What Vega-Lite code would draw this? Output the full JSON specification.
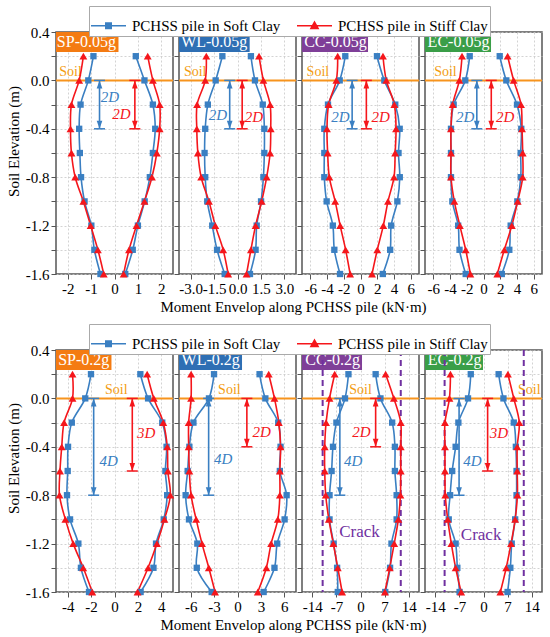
{
  "$schema": "https://vega.github.io/schema/vega-lite/v6.json",
  "padding": {"left": 5, "top": 5, "right": 4, "bottom": 4},
  "data": {"name": "d"},
  "datasets": {
    "d": [
      {"k":"c","p":"SP05","s":"Soft","d":"L","e":0.2,"m":-0.90},{"k":"c","p":"SP05","s":"Soft","d":"L","e":0,"m":-1.12},{"k":"c","p":"SP05","s":"Soft","d":"L","e":-0.2,"m":-1.45},{"k":"c","p":"SP05","s":"Soft","d":"L","e":-0.4,"m":-1.51},{"k":"c","p":"SP05","s":"Soft","d":"L","e":-0.6,"m":-1.48},{"k":"c","p":"SP05","s":"Soft","d":"L","e":-0.8,"m":-1.43},{"k":"c","p":"SP05","s":"Soft","d":"L","e":-1,"m":-1.28},{"k":"c","p":"SP05","s":"Soft","d":"L","e":-1.2,"m":-0.99},{"k":"c","p":"SP05","s":"Soft","d":"L","e":-1.4,"m":-0.86},{"k":"c","p":"SP05","s":"Soft","d":"L","e":-1.6,"m":-0.60},
      {"k":"c","p":"SP05","s":"Stiff","d":"L","e":0.2,"m":-1.33},{"k":"c","p":"SP05","s":"Stiff","d":"L","e":0,"m":-1.51},{"k":"c","p":"SP05","s":"Stiff","d":"L","e":-0.2,"m":-1.84},{"k":"c","p":"SP05","s":"Stiff","d":"L","e":-0.4,"m":-1.88},{"k":"c","p":"SP05","s":"Stiff","d":"L","e":-0.6,"m":-1.84},{"k":"c","p":"SP05","s":"Stiff","d":"L","e":-0.8,"m":-1.68},{"k":"c","p":"SP05","s":"Stiff","d":"L","e":-1,"m":-1.33},{"k":"c","p":"SP05","s":"Stiff","d":"L","e":-1.2,"m":-1.02},{"k":"c","p":"SP05","s":"Stiff","d":"L","e":-1.4,"m":-0.71},{"k":"c","p":"SP05","s":"Stiff","d":"L","e":-1.6,"m":-0.46},
      {"k":"c","p":"SP05","s":"Soft","d":"R","e":0.2,"m":0.91},{"k":"c","p":"SP05","s":"Soft","d":"R","e":0,"m":1.28},{"k":"c","p":"SP05","s":"Soft","d":"R","e":-0.2,"m":1.64},{"k":"c","p":"SP05","s":"Soft","d":"R","e":-0.4,"m":1.74},{"k":"c","p":"SP05","s":"Soft","d":"R","e":-0.6,"m":1.64},{"k":"c","p":"SP05","s":"Soft","d":"R","e":-0.8,"m":1.51},{"k":"c","p":"SP05","s":"Soft","d":"R","e":-1,"m":1.29},{"k":"c","p":"SP05","s":"Soft","d":"R","e":-1.2,"m":1.00},{"k":"c","p":"SP05","s":"Soft","d":"R","e":-1.4,"m":0.78},{"k":"c","p":"SP05","s":"Soft","d":"R","e":-1.6,"m":0.46},
      {"k":"c","p":"SP05","s":"Stiff","d":"R","e":0.2,"m":1.42},{"k":"c","p":"SP05","s":"Stiff","d":"R","e":0,"m":1.64},{"k":"c","p":"SP05","s":"Stiff","d":"R","e":-0.2,"m":1.93},{"k":"c","p":"SP05","s":"Stiff","d":"R","e":-0.4,"m":1.93},{"k":"c","p":"SP05","s":"Stiff","d":"R","e":-0.6,"m":1.81},{"k":"c","p":"SP05","s":"Stiff","d":"R","e":-0.8,"m":1.60},{"k":"c","p":"SP05","s":"Stiff","d":"R","e":-1,"m":1.28},{"k":"c","p":"SP05","s":"Stiff","d":"R","e":-1.2,"m":0.94},{"k":"c","p":"SP05","s":"Stiff","d":"R","e":-1.4,"m":0.62},{"k":"c","p":"SP05","s":"Stiff","d":"R","e":-1.6,"m":0.39},

      {"k":"c","p":"WL05","s":"Soft","d":"L","e":0.2,"m":-0.97},{"k":"c","p":"WL05","s":"Soft","d":"L","e":0,"m":-1.40},{"k":"c","p":"WL05","s":"Soft","d":"L","e":-0.2,"m":-1.90},{"k":"c","p":"WL05","s":"Soft","d":"L","e":-0.4,"m":-2.07},{"k":"c","p":"WL05","s":"Soft","d":"L","e":-0.6,"m":-2.11},{"k":"c","p":"WL05","s":"Soft","d":"L","e":-0.8,"m":-2.07},{"k":"c","p":"WL05","s":"Soft","d":"L","e":-1,"m":-1.94},{"k":"c","p":"WL05","s":"Soft","d":"L","e":-1.2,"m":-1.62},{"k":"c","p":"WL05","s":"Soft","d":"L","e":-1.4,"m":-1.31},{"k":"c","p":"WL05","s":"Soft","d":"L","e":-1.6,"m":-0.82},
      {"k":"c","p":"WL05","s":"Stiff","d":"L","e":0.2,"m":-2.00},{"k":"c","p":"WL05","s":"Stiff","d":"L","e":0,"m":-2.07},{"k":"c","p":"WL05","s":"Stiff","d":"L","e":-0.2,"m":-2.59},{"k":"c","p":"WL05","s":"Stiff","d":"L","e":-0.4,"m":-2.61},{"k":"c","p":"WL05","s":"Stiff","d":"L","e":-0.6,"m":-2.54},{"k":"c","p":"WL05","s":"Stiff","d":"L","e":-0.8,"m":-2.33},{"k":"c","p":"WL05","s":"Stiff","d":"L","e":-1,"m":-1.83},{"k":"c","p":"WL05","s":"Stiff","d":"L","e":-1.2,"m":-1.42},{"k":"c","p":"WL05","s":"Stiff","d":"L","e":-1.4,"m":-0.92},{"k":"c","p":"WL05","s":"Stiff","d":"L","e":-1.6,"m":-0.60},
      {"k":"c","p":"WL05","s":"Soft","d":"R","e":0.2,"m":0.86},{"k":"c","p":"WL05","s":"Soft","d":"R","e":0,"m":1.12},{"k":"c","p":"WL05","s":"Soft","d":"R","e":-0.2,"m":1.62},{"k":"c","p":"WL05","s":"Soft","d":"R","e":-0.4,"m":1.72},{"k":"c","p":"WL05","s":"Soft","d":"R","e":-0.6,"m":1.72},{"k":"c","p":"WL05","s":"Soft","d":"R","e":-0.8,"m":1.66},{"k":"c","p":"WL05","s":"Soft","d":"R","e":-1,"m":1.51},{"k":"c","p":"WL05","s":"Soft","d":"R","e":-1.2,"m":1.23},{"k":"c","p":"WL05","s":"Soft","d":"R","e":-1.4,"m":1.16},{"k":"c","p":"WL05","s":"Soft","d":"R","e":-1.6,"m":0.80},
      {"k":"c","p":"WL05","s":"Stiff","d":"R","e":0.2,"m":1.38},{"k":"c","p":"WL05","s":"Stiff","d":"R","e":0,"m":1.66},{"k":"c","p":"WL05","s":"Stiff","d":"R","e":-0.2,"m":2.09},{"k":"c","p":"WL05","s":"Stiff","d":"R","e":-0.4,"m":2.13},{"k":"c","p":"WL05","s":"Stiff","d":"R","e":-0.6,"m":2.09},{"k":"c","p":"WL05","s":"Stiff","d":"R","e":-0.8,"m":1.87},{"k":"c","p":"WL05","s":"Stiff","d":"R","e":-1,"m":1.55},{"k":"c","p":"WL05","s":"Stiff","d":"R","e":-1.2,"m":1.16},{"k":"c","p":"WL05","s":"Stiff","d":"R","e":-1.4,"m":0.86},{"k":"c","p":"WL05","s":"Stiff","d":"R","e":-1.6,"m":0.58},

      {"k":"c","p":"CC05","s":"Soft","d":"L","e":0.2,"m":-1.82},{"k":"c","p":"CC05","s":"Soft","d":"L","e":0,"m":-2.49},{"k":"c","p":"CC05","s":"Soft","d":"L","e":-0.2,"m":-3.89},{"k":"c","p":"CC05","s":"Soft","d":"L","e":-0.4,"m":-4.33},{"k":"c","p":"CC05","s":"Soft","d":"L","e":-0.6,"m":-4.33},{"k":"c","p":"CC05","s":"Soft","d":"L","e":-0.8,"m":-4.33},{"k":"c","p":"CC05","s":"Soft","d":"L","e":-1,"m":-4.05},{"k":"c","p":"CC05","s":"Soft","d":"L","e":-1.2,"m":-3.31},{"k":"c","p":"CC05","s":"Soft","d":"L","e":-1.4,"m":-3.13},{"k":"c","p":"CC05","s":"Soft","d":"L","e":-1.6,"m":-2.45},
      {"k":"c","p":"CC05","s":"Stiff","d":"L","e":0.2,"m":-2.73},{"k":"c","p":"CC05","s":"Stiff","d":"L","e":0,"m":-2.89},{"k":"c","p":"CC05","s":"Stiff","d":"L","e":-0.2,"m":-3.81},{"k":"c","p":"CC05","s":"Stiff","d":"L","e":-0.4,"m":-4.01},{"k":"c","p":"CC05","s":"Stiff","d":"L","e":-0.6,"m":-3.93},{"k":"c","p":"CC05","s":"Stiff","d":"L","e":-0.8,"m":-3.73},{"k":"c","p":"CC05","s":"Stiff","d":"L","e":-1,"m":-3.03},{"k":"c","p":"CC05","s":"Stiff","d":"L","e":-1.2,"m":-2.43},{"k":"c","p":"CC05","s":"Stiff","d":"L","e":-1.4,"m":-1.78},{"k":"c","p":"CC05","s":"Stiff","d":"L","e":-1.6,"m":-1.24},
      {"k":"c","p":"CC05","s":"Soft","d":"R","e":0.2,"m":1.97},{"k":"c","p":"CC05","s":"Soft","d":"R","e":0,"m":2.85},{"k":"c","p":"CC05","s":"Soft","d":"R","e":-0.2,"m":4.16},{"k":"c","p":"CC05","s":"Soft","d":"R","e":-0.4,"m":4.69},{"k":"c","p":"CC05","s":"Soft","d":"R","e":-0.6,"m":4.55},{"k":"c","p":"CC05","s":"Soft","d":"R","e":-0.8,"m":4.70},{"k":"c","p":"CC05","s":"Soft","d":"R","e":-1,"m":4.41},{"k":"c","p":"CC05","s":"Soft","d":"R","e":-1.2,"m":3.67},{"k":"c","p":"CC05","s":"Soft","d":"R","e":-1.4,"m":3.55},{"k":"c","p":"CC05","s":"Soft","d":"R","e":-1.6,"m":2.67},
      {"k":"c","p":"CC05","s":"Stiff","d":"R","e":0.2,"m":2.69},{"k":"c","p":"CC05","s":"Stiff","d":"R","e":0,"m":3.09},{"k":"c","p":"CC05","s":"Stiff","d":"R","e":-0.2,"m":4.05},{"k":"c","p":"CC05","s":"Stiff","d":"R","e":-0.4,"m":4.25},{"k":"c","p":"CC05","s":"Stiff","d":"R","e":-0.6,"m":4.15},{"k":"c","p":"CC05","s":"Stiff","d":"R","e":-0.8,"m":4.01},{"k":"c","p":"CC05","s":"Stiff","d":"R","e":-1,"m":3.29},{"k":"c","p":"CC05","s":"Stiff","d":"R","e":-1.2,"m":2.73},{"k":"c","p":"CC05","s":"Stiff","d":"R","e":-1.4,"m":2.01},{"k":"c","p":"CC05","s":"Stiff","d":"R","e":-1.6,"m":1.38},

      {"k":"c","p":"EC05","s":"Soft","d":"L","e":0.2,"m":-1.65},{"k":"c","p":"EC05","s":"Soft","d":"L","e":0,"m":-2.18},{"k":"c","p":"EC05","s":"Soft","d":"L","e":-0.2,"m":-3.57},{"k":"c","p":"EC05","s":"Soft","d":"L","e":-0.4,"m":-3.89},{"k":"c","p":"EC05","s":"Soft","d":"L","e":-0.6,"m":-3.89},{"k":"c","p":"EC05","s":"Soft","d":"L","e":-0.8,"m":-3.89},{"k":"c","p":"EC05","s":"Soft","d":"L","e":-1,"m":-3.73},{"k":"c","p":"EC05","s":"Soft","d":"L","e":-1.2,"m":-3.03},{"k":"c","p":"EC05","s":"Soft","d":"L","e":-1.4,"m":-2.87},{"k":"c","p":"EC05","s":"Soft","d":"L","e":-1.6,"m":-2.13},
      {"k":"c","p":"EC05","s":"Stiff","d":"L","e":0.2,"m":-2.57},{"k":"c","p":"EC05","s":"Stiff","d":"L","e":0,"m":-2.89},{"k":"c","p":"EC05","s":"Stiff","d":"L","e":-0.2,"m":-3.69},{"k":"c","p":"EC05","s":"Stiff","d":"L","e":-0.4,"m":-3.89},{"k":"c","p":"EC05","s":"Stiff","d":"L","e":-0.6,"m":-3.89},{"k":"c","p":"EC05","s":"Stiff","d":"L","e":-0.8,"m":-3.89},{"k":"c","p":"EC05","s":"Stiff","d":"L","e":-1,"m":-3.49},{"k":"c","p":"EC05","s":"Stiff","d":"L","e":-1.2,"m":-2.83},{"k":"c","p":"EC05","s":"Stiff","d":"L","e":-1.4,"m":-2.13},{"k":"c","p":"EC05","s":"Stiff","d":"L","e":-1.6,"m":-1.57},
      {"k":"c","p":"EC05","s":"Soft","d":"R","e":0.2,"m":1.94},{"k":"c","p":"EC05","s":"Soft","d":"R","e":0,"m":2.73},{"k":"c","p":"EC05","s":"Soft","d":"R","e":-0.2,"m":4.01},{"k":"c","p":"EC05","s":"Soft","d":"R","e":-0.4,"m":4.52},{"k":"c","p":"EC05","s":"Soft","d":"R","e":-0.6,"m":4.45},{"k":"c","p":"EC05","s":"Soft","d":"R","e":-0.8,"m":4.46},{"k":"c","p":"EC05","s":"Soft","d":"R","e":-1,"m":4.05},{"k":"c","p":"EC05","s":"Soft","d":"R","e":-1.2,"m":3.25},{"k":"c","p":"EC05","s":"Soft","d":"R","e":-1.4,"m":3.09},{"k":"c","p":"EC05","s":"Soft","d":"R","e":-1.6,"m":2.19},
      {"k":"c","p":"EC05","s":"Stiff","d":"R","e":0.2,"m":2.89},{"k":"c","p":"EC05","s":"Stiff","d":"R","e":0,"m":3.61},{"k":"c","p":"EC05","s":"Stiff","d":"R","e":-0.2,"m":4.49},{"k":"c","p":"EC05","s":"Stiff","d":"R","e":-0.4,"m":4.61},{"k":"c","p":"EC05","s":"Stiff","d":"R","e":-0.6,"m":4.69},{"k":"c","p":"EC05","s":"Stiff","d":"R","e":-0.8,"m":4.69},{"k":"c","p":"EC05","s":"Stiff","d":"R","e":-1,"m":4.09},{"k":"c","p":"EC05","s":"Stiff","d":"R","e":-1.2,"m":3.39},{"k":"c","p":"EC05","s":"Stiff","d":"R","e":-1.4,"m":2.49},{"k":"c","p":"EC05","s":"Stiff","d":"R","e":-1.6,"m":1.65},

      {"k":"c","p":"SP2","s":"Soft","d":"L","e":0.2,"m":-2.01},{"k":"c","p":"SP2","s":"Soft","d":"L","e":0,"m":-2.50},{"k":"c","p":"SP2","s":"Soft","d":"L","e":-0.2,"m":-3.65},{"k":"c","p":"SP2","s":"Soft","d":"L","e":-0.4,"m":-3.97},{"k":"c","p":"SP2","s":"Soft","d":"L","e":-0.6,"m":-4.00},{"k":"c","p":"SP2","s":"Soft","d":"L","e":-0.8,"m":-4.06},{"k":"c","p":"SP2","s":"Soft","d":"L","e":-1,"m":-3.80},{"k":"c","p":"SP2","s":"Soft","d":"L","e":-1.2,"m":-3.09},{"k":"c","p":"SP2","s":"Soft","d":"L","e":-1.4,"m":-2.87},{"k":"c","p":"SP2","s":"Soft","d":"L","e":-1.6,"m":-2.18},
      {"k":"c","p":"SP2","s":"Stiff","d":"L","e":0.2,"m":-3.59},{"k":"c","p":"SP2","s":"Stiff","d":"L","e":0,"m":-3.59},{"k":"c","p":"SP2","s":"Stiff","d":"L","e":-0.2,"m":-4.31},{"k":"c","p":"SP2","s":"Stiff","d":"L","e":-0.4,"m":-4.51},{"k":"c","p":"SP2","s":"Stiff","d":"L","e":-0.6,"m":-4.66},{"k":"c","p":"SP2","s":"Stiff","d":"L","e":-0.8,"m":-4.70},{"k":"c","p":"SP2","s":"Stiff","d":"L","e":-1,"m":-4.20},{"k":"c","p":"SP2","s":"Stiff","d":"L","e":-1.2,"m":-3.53},{"k":"c","p":"SP2","s":"Stiff","d":"L","e":-1.4,"m":-2.67},{"k":"c","p":"SP2","s":"Stiff","d":"L","e":-1.6,"m":-1.90},
      {"k":"c","p":"SP2","s":"Soft","d":"R","e":0.2,"m":2.21},{"k":"c","p":"SP2","s":"Soft","d":"R","e":0,"m":2.87},{"k":"c","p":"SP2","s":"Soft","d":"R","e":-0.2,"m":4.08},{"k":"c","p":"SP2","s":"Soft","d":"R","e":-0.4,"m":4.45},{"k":"c","p":"SP2","s":"Soft","d":"R","e":-0.6,"m":4.35},{"k":"c","p":"SP2","s":"Soft","d":"R","e":-0.8,"m":4.50},{"k":"c","p":"SP2","s":"Soft","d":"R","e":-1,"m":4.21},{"k":"c","p":"SP2","s":"Soft","d":"R","e":-1.2,"m":3.55},{"k":"c","p":"SP2","s":"Soft","d":"R","e":-1.4,"m":3.33},{"k":"c","p":"SP2","s":"Soft","d":"R","e":-1.6,"m":2.23},
      {"k":"c","p":"SP2","s":"Stiff","d":"R","e":0.2,"m":2.79},{"k":"c","p":"SP2","s":"Stiff","d":"R","e":0,"m":3.36},{"k":"c","p":"SP2","s":"Stiff","d":"R","e":-0.2,"m":4.17},{"k":"c","p":"SP2","s":"Stiff","d":"R","e":-0.4,"m":4.51},{"k":"c","p":"SP2","s":"Stiff","d":"R","e":-0.6,"m":4.56},{"k":"c","p":"SP2","s":"Stiff","d":"R","e":-0.8,"m":4.77},{"k":"c","p":"SP2","s":"Stiff","d":"R","e":-1,"m":4.27},{"k":"c","p":"SP2","s":"Stiff","d":"R","e":-1.2,"m":3.63},{"k":"c","p":"SP2","s":"Stiff","d":"R","e":-1.4,"m":2.87},{"k":"c","p":"SP2","s":"Stiff","d":"R","e":-1.6,"m":1.97},

      {"k":"c","p":"WL2","s":"Soft","d":"L","e":0.2,"m":-3.01},{"k":"c","p":"WL2","s":"Soft","d":"L","e":0,"m":-3.66},{"k":"c","p":"WL2","s":"Soft","d":"L","e":-0.2,"m":-5.65},{"k":"c","p":"WL2","s":"Soft","d":"L","e":-0.4,"m":-6.17},{"k":"c","p":"WL2","s":"Soft","d":"L","e":-0.6,"m":-6.39},{"k":"c","p":"WL2","s":"Soft","d":"L","e":-0.8,"m":-6.65},{"k":"c","p":"WL2","s":"Soft","d":"L","e":-1,"m":-6.22},{"k":"c","p":"WL2","s":"Soft","d":"L","e":-1.2,"m":-5.15},{"k":"c","p":"WL2","s":"Soft","d":"L","e":-1.4,"m":-5.22},{"k":"c","p":"WL2","s":"Soft","d":"L","e":-1.6,"m":-3.31},
      {"k":"c","p":"WL2","s":"Stiff","d":"L","e":0.2,"m":-5.95},{"k":"c","p":"WL2","s":"Stiff","d":"L","e":0,"m":-5.95},{"k":"c","p":"WL2","s":"Stiff","d":"L","e":-0.2,"m":-6.26},{"k":"c","p":"WL2","s":"Stiff","d":"L","e":-0.4,"m":-6.26},{"k":"c","p":"WL2","s":"Stiff","d":"L","e":-0.6,"m":-6.17},{"k":"c","p":"WL2","s":"Stiff","d":"L","e":-0.8,"m":-5.95},{"k":"c","p":"WL2","s":"Stiff","d":"L","e":-1,"m":-5.30},{"k":"c","p":"WL2","s":"Stiff","d":"L","e":-1.2,"m":-4.55},{"k":"c","p":"WL2","s":"Stiff","d":"L","e":-1.4,"m":-3.68},{"k":"c","p":"WL2","s":"Stiff","d":"L","e":-1.6,"m":-2.88},
      {"k":"c","p":"WL2","s":"Soft","d":"R","e":0.2,"m":2.83},{"k":"c","p":"WL2","s":"Soft","d":"R","e":0,"m":3.57},{"k":"c","p":"WL2","s":"Soft","d":"R","e":-0.2,"m":5.22},{"k":"c","p":"WL2","s":"Soft","d":"R","e":-0.4,"m":5.52},{"k":"c","p":"WL2","s":"Soft","d":"R","e":-0.6,"m":5.43},{"k":"c","p":"WL2","s":"Soft","d":"R","e":-0.8,"m":6.30},{"k":"c","p":"WL2","s":"Soft","d":"R","e":-1,"m":6.04},{"k":"c","p":"WL2","s":"Soft","d":"R","e":-1.2,"m":5.09},{"k":"c","p":"WL2","s":"Soft","d":"R","e":-1.4,"m":4.74},{"k":"c","p":"WL2","s":"Soft","d":"R","e":-1.6,"m":3.35},
      {"k":"c","p":"WL2","s":"Stiff","d":"R","e":0.2,"m":4.00},{"k":"c","p":"WL2","s":"Stiff","d":"R","e":0,"m":4.74},{"k":"c","p":"WL2","s":"Stiff","d":"R","e":-0.2,"m":5.30},{"k":"c","p":"WL2","s":"Stiff","d":"R","e":-0.4,"m":5.52},{"k":"c","p":"WL2","s":"Stiff","d":"R","e":-0.6,"m":5.43},{"k":"c","p":"WL2","s":"Stiff","d":"R","e":-0.8,"m":5.43},{"k":"c","p":"WL2","s":"Stiff","d":"R","e":-1,"m":5.17},{"k":"c","p":"WL2","s":"Stiff","d":"R","e":-1.2,"m":4.31},{"k":"c","p":"WL2","s":"Stiff","d":"R","e":-1.4,"m":3.70},{"k":"c","p":"WL2","s":"Stiff","d":"R","e":-1.6,"m":2.60},

      {"k":"c","p":"CC2","s":"Soft","d":"L","e":0.2,"m":-3.5},{"k":"c","p":"CC2","s":"Soft","d":"L","e":0,"m":-4.5},{"k":"c","p":"CC2","s":"Soft","d":"L","e":-0.2,"m":-7.0},{"k":"c","p":"CC2","s":"Soft","d":"L","e":-0.4,"m":-8.0},{"k":"c","p":"CC2","s":"Soft","d":"L","e":-0.6,"m":-8.4},{"k":"c","p":"CC2","s":"Soft","d":"L","e":-0.8,"m":-9.0},{"k":"c","p":"CC2","s":"Soft","d":"L","e":-1,"m":-9.0},{"k":"c","p":"CC2","s":"Soft","d":"L","e":-1.2,"m":-7.8},{"k":"c","p":"CC2","s":"Soft","d":"L","e":-1.4,"m":-6.8},{"k":"c","p":"CC2","s":"Soft","d":"L","e":-1.6,"m":-6.6},
      {"k":"c","p":"CC2","s":"Stiff","d":"L","e":0.2,"m":-7.5},{"k":"c","p":"CC2","s":"Stiff","d":"L","e":0,"m":-9.0},{"k":"c","p":"CC2","s":"Stiff","d":"L","e":-0.2,"m":-10.0},{"k":"c","p":"CC2","s":"Stiff","d":"L","e":-0.4,"m":-10.4},{"k":"c","p":"CC2","s":"Stiff","d":"L","e":-0.6,"m":-10.4},{"k":"c","p":"CC2","s":"Stiff","d":"L","e":-0.8,"m":-10.1},{"k":"c","p":"CC2","s":"Stiff","d":"L","e":-1,"m":-9.2},{"k":"c","p":"CC2","s":"Stiff","d":"L","e":-1.2,"m":-7.9},{"k":"c","p":"CC2","s":"Stiff","d":"L","e":-1.4,"m":-6.6},{"k":"c","p":"CC2","s":"Stiff","d":"L","e":-1.6,"m":-5.35},
      {"k":"c","p":"CC2","s":"Soft","d":"R","e":0.2,"m":4.4},{"k":"c","p":"CC2","s":"Soft","d":"R","e":0,"m":5.8},{"k":"c","p":"CC2","s":"Soft","d":"R","e":-0.2,"m":9.2},{"k":"c","p":"CC2","s":"Soft","d":"R","e":-0.4,"m":10.0},{"k":"c","p":"CC2","s":"Soft","d":"R","e":-0.6,"m":10.0},{"k":"c","p":"CC2","s":"Soft","d":"R","e":-0.8,"m":10.5},{"k":"c","p":"CC2","s":"Soft","d":"R","e":-1,"m":10.5},{"k":"c","p":"CC2","s":"Soft","d":"R","e":-1.2,"m":9.0},{"k":"c","p":"CC2","s":"Soft","d":"R","e":-1.4,"m":8.6},{"k":"c","p":"CC2","s":"Soft","d":"R","e":-1.6,"m":7.2},
      {"k":"c","p":"CC2","s":"Stiff","d":"R","e":0.2,"m":7.3},{"k":"c","p":"CC2","s":"Stiff","d":"R","e":0,"m":9.7},{"k":"c","p":"CC2","s":"Stiff","d":"R","e":-0.2,"m":11.7},{"k":"c","p":"CC2","s":"Stiff","d":"R","e":-0.4,"m":11.7},{"k":"c","p":"CC2","s":"Stiff","d":"R","e":-0.6,"m":11.7},{"k":"c","p":"CC2","s":"Stiff","d":"R","e":-0.8,"m":11.6},{"k":"c","p":"CC2","s":"Stiff","d":"R","e":-1,"m":11.0},{"k":"c","p":"CC2","s":"Stiff","d":"R","e":-1.2,"m":9.8},{"k":"c","p":"CC2","s":"Stiff","d":"R","e":-1.4,"m":8.5},{"k":"c","p":"CC2","s":"Stiff","d":"R","e":-1.6,"m":7.1},

      {"k":"c","p":"EC2","s":"Soft","d":"L","e":0.2,"m":-3.7},{"k":"c","p":"EC2","s":"Soft","d":"L","e":0,"m":-4.5},{"k":"c","p":"EC2","s":"Soft","d":"L","e":-0.2,"m":-7.3},{"k":"c","p":"EC2","s":"Soft","d":"L","e":-0.4,"m":-8.1},{"k":"c","p":"EC2","s":"Soft","d":"L","e":-0.6,"m":-9.1},{"k":"c","p":"EC2","s":"Soft","d":"L","e":-0.8,"m":-9.7},{"k":"c","p":"EC2","s":"Soft","d":"L","e":-1,"m":-10.1},{"k":"c","p":"EC2","s":"Soft","d":"L","e":-1.2,"m":-8.1},{"k":"c","p":"EC2","s":"Soft","d":"L","e":-1.4,"m":-7.6},{"k":"c","p":"EC2","s":"Soft","d":"L","e":-1.6,"m":-6.95},
      {"k":"c","p":"EC2","s":"Stiff","d":"L","e":0.2,"m":-9.6},{"k":"c","p":"EC2","s":"Stiff","d":"L","e":0,"m":-9.9},{"k":"c","p":"EC2","s":"Stiff","d":"L","e":-0.2,"m":-11.2},{"k":"c","p":"EC2","s":"Stiff","d":"L","e":-0.4,"m":-11.2},{"k":"c","p":"EC2","s":"Stiff","d":"L","e":-0.6,"m":-11.2},{"k":"c","p":"EC2","s":"Stiff","d":"L","e":-0.8,"m":-11.1},{"k":"c","p":"EC2","s":"Stiff","d":"L","e":-1,"m":-10.4},{"k":"c","p":"EC2","s":"Stiff","d":"L","e":-1.2,"m":-9.35},{"k":"c","p":"EC2","s":"Stiff","d":"L","e":-1.4,"m":-8.1},{"k":"c","p":"EC2","s":"Stiff","d":"L","e":-1.6,"m":-6.5},
      {"k":"c","p":"EC2","s":"Soft","d":"R","e":0.2,"m":4.4},{"k":"c","p":"EC2","s":"Soft","d":"R","e":0,"m":5.8},{"k":"c","p":"EC2","s":"Soft","d":"R","e":-0.2,"m":8.8},{"k":"c","p":"EC2","s":"Soft","d":"R","e":-0.4,"m":9.4},{"k":"c","p":"EC2","s":"Soft","d":"R","e":-0.6,"m":9.6},{"k":"c","p":"EC2","s":"Soft","d":"R","e":-0.8,"m":9.6},{"k":"c","p":"EC2","s":"Soft","d":"R","e":-1,"m":9.2},{"k":"c","p":"EC2","s":"Soft","d":"R","e":-1.2,"m":8.2},{"k":"c","p":"EC2","s":"Soft","d":"R","e":-1.4,"m":7.8},{"k":"c","p":"EC2","s":"Soft","d":"R","e":-1.6,"m":7.0},
      {"k":"c","p":"EC2","s":"Stiff","d":"R","e":0.2,"m":7.1},{"k":"c","p":"EC2","s":"Stiff","d":"R","e":0,"m":8.8},{"k":"c","p":"EC2","s":"Stiff","d":"R","e":-0.2,"m":10.4},{"k":"c","p":"EC2","s":"Stiff","d":"R","e":-0.4,"m":9.8},{"k":"c","p":"EC2","s":"Stiff","d":"R","e":-0.6,"m":9.8},{"k":"c","p":"EC2","s":"Stiff","d":"R","e":-0.8,"m":9.85},{"k":"c","p":"EC2","s":"Stiff","d":"R","e":-1,"m":9.2},{"k":"c","p":"EC2","s":"Stiff","d":"R","e":-1.2,"m":8.0},{"k":"c","p":"EC2","s":"Stiff","d":"R","e":-1.4,"m":6.6},{"k":"c","p":"EC2","s":"Stiff","d":"R","e":-1.6,"m":4.9},

      {"k":"b","p":"SP05","m":-2.5,"m2":0.17,"e":0.4,"e2":0.235},{"k":"b","p":"WL05","m":-3.75,"m2":0.78,"e":0.4,"e2":0.235},{"k":"b","p":"CC05","m":-7,"m2":0.9,"e":0.4,"e2":0.235},{"k":"b","p":"EC05","m":-7,"m2":0.9,"e":0.4,"e2":0.235},
      {"k":"b","p":"SP2","m":-5,"m2":-0.26,"e":0.4,"e2":0.235},{"k":"b","p":"WL2","m":-7.5,"m2":0.58,"e":0.4,"e2":0.235},{"k":"b","p":"CC2","m":-17,"m2":0.44,"e":0.4,"e2":0.235},{"k":"b","p":"EC2","m":-17,"m2":-0.15,"e":0.4,"e2":0.235},
      {"k":"bl","p":"SP05","m":-1.2,"e":0.3175,"txt":"SP-0.05g"},{"k":"bl","p":"WL05","m":-1.49,"e":0.3175,"txt":"WL-0.05g"},{"k":"bl","p":"CC05","m":-2.99,"e":0.3175,"txt":"CC-0.05g"},{"k":"bl","p":"EC05","m":-2.99,"e":0.3175,"txt":"EC-0.05g"},
      {"k":"bl","p":"SP2","m":-2.63,"e":0.3175,"txt":"SP-0.2g"},{"k":"bl","p":"WL2","m":-3.44,"e":0.3175,"txt":"WL-0.2g"},{"k":"bl","p":"CC2","m":-8.1,"e":0.3175,"txt":"CC-0.2g"},{"k":"bl","p":"EC2","m":-8.4,"e":0.3175,"txt":"EC-0.2g"},
      {"k":"soil","p":"SP05","m":-2.5,"m2":2.5,"e":0},{"k":"soil","p":"WL05","m":-3.75,"m2":3.75,"e":0},{"k":"soil","p":"CC05","m":-7,"m2":7,"e":0},{"k":"soil","p":"EC05","m":-7,"m2":7,"e":0},
      {"k":"soil","p":"SP2","m":-5,"m2":5,"e":0},{"k":"soil","p":"WL2","m":-7.5,"m2":7.5,"e":0},{"k":"soil","p":"CC2","m":-17,"m2":17,"e":0},{"k":"soil","p":"EC2","m":-17,"m2":17,"e":0},
      {"k":"sl","p":"SP05","m":-1.88,"e":0},{"k":"sl","p":"WL05","m":-2.71,"e":0},{"k":"sl","p":"CC05","m":-5.1,"e":0},{"k":"sl","p":"EC05","m":-4.55,"e":0},
      {"k":"sl","p":"SP2","m":0.15,"e":0},{"k":"sl","p":"WL2","m":-1.04,"e":0},{"k":"sl","p":"CC2","m":0,"e":0},{"k":"sl","p":"EC2","m":13.3,"e":0},
      {"k":"a","p":"SP05","s":"Soft","m":-0.64,"e":0,"e2":-0.4},{"k":"a","p":"SP05","s":"Stiff","m":0.87,"e":0,"e2":-0.4},
      {"k":"a","p":"WL05","s":"Soft","m":-0.5,"e":0,"e2":-0.4},{"k":"a","p":"WL05","s":"Stiff","m":0.3,"e":0,"e2":-0.4},
      {"k":"a","p":"CC05","s":"Soft","m":-1.0,"e":0,"e2":-0.4},{"k":"a","p":"CC05","s":"Stiff","m":0.7,"e":0,"e2":-0.4},
      {"k":"a","p":"EC05","s":"Soft","m":-0.8,"e":0,"e2":-0.4},{"k":"a","p":"EC05","s":"Stiff","m":0.93,"e":0,"e2":-0.4},
      {"k":"a","p":"SP2","s":"Soft","m":-1.78,"e":0,"e2":-0.8},{"k":"a","p":"SP2","s":"Stiff","m":1.52,"e":0,"e2":-0.6},
      {"k":"a","p":"WL2","s":"Soft","m":-3.7,"e":0,"e2":-0.8},{"k":"a","p":"WL2","s":"Stiff","m":1.2,"e":0,"e2":-0.4},
      {"k":"a","p":"CC2","s":"Soft","m":-6.0,"e":0,"e2":-0.8},{"k":"a","p":"CC2","s":"Stiff","m":4.4,"e":0,"e2":-0.4},
      {"k":"a","p":"EC2","s":"Soft","m":-7.1,"e":0,"e2":-0.8},{"k":"a","p":"EC2","s":"Stiff","m":1.2,"e":0,"e2":-0.6},
      {"k":"t","p":"SP05","s":"Soft","m":-0.2,"e":-0.14,"txt":"2D"},{"k":"t","p":"SP05","s":"Stiff","m":0.3,"e":-0.28,"txt":"2D"},
      {"k":"t","p":"WL05","s":"Soft","m":-1.25,"e":-0.29,"txt":"2D"},{"k":"t","p":"WL05","s":"Stiff","m":1.05,"e":-0.3,"txt":"2D"},
      {"k":"t","p":"CC05","s":"Soft","m":-2.4,"e":-0.3,"txt":"2D"},{"k":"t","p":"CC05","s":"Stiff","m":2.4,"e":-0.3,"txt":"2D"},
      {"k":"t","p":"EC05","s":"Soft","m":-2.2,"e":-0.3,"txt":"2D"},{"k":"t","p":"EC05","s":"Stiff","m":2.6,"e":-0.3,"txt":"2D"},
      {"k":"t","p":"SP2","s":"Soft","m":-0.5,"e":-0.52,"txt":"4D"},{"k":"t","p":"SP2","s":"Stiff","m":2.7,"e":-0.29,"txt":"3D"},
      {"k":"t","p":"WL2","s":"Soft","m":-1.85,"e":-0.5,"txt":"4D"},{"k":"t","p":"WL2","s":"Stiff","m":3.1,"e":-0.28,"txt":"2D"},
      {"k":"t","p":"CC2","s":"Soft","m":-2.1,"e":-0.52,"txt":"4D"},{"k":"t","p":"CC2","s":"Stiff","m":0.3,"e":-0.28,"txt":"2D"},
      {"k":"t","p":"EC2","s":"Soft","m":-3.2,"e":-0.52,"txt":"4D"},{"k":"t","p":"EC2","s":"Stiff","m":4.5,"e":-0.29,"txt":"3D"},
      {"k":"k","p":"CC2","m":-11.0,"e":0.4,"e2":-1.6},{"k":"k","p":"CC2","m":11.7,"e":0.4,"e2":-1.6},
      {"k":"k","p":"EC2","m":-11.3,"e":0.4,"e2":-1.6},{"k":"k","p":"EC2","m":11.7,"e":0.4,"e2":-1.6},
      {"k":"kl","p":"CC2","m":-0.3,"e":-1.1},{"k":"kl","p":"EC2","m":-0.7,"e":-1.13}
    ]
  },
  "vconcat": [
    {
      "hconcat": [
        {
          "width": 117, "height": 242,
          "transform": [{"filter": "datum.p == 'SP05'"}],
          "encoding": {
            "x": {"field": "m", "type": "quantitative", "scale": {"domain": [-2.5, 2.5], "nice": false, "zero": false},
              "axis": {"values": [-2, -1, 0, 1, 2], "format": "d", "labelExpr": "replace(datum.label, '−', '-')", "labelFlush": false, "labelOverlap": false, "title": null}},
            "y": {"field": "e", "type": "quantitative", "scale": {"domain": [-1.6, 0.4], "nice": false, "zero": false},
              "axis": {"values": [0.4, 0.2, 0, -0.2, -0.4, -0.6, -0.8, -1, -1.2, -1.4, -1.6], "labelOverlap": false, "labelExpr": "abs(round(datum.value * 10)) % 4 == 0 ? replace(format(datum.value, '.1f'), '−', '-') : ''", "title": "Soil Elevation (m)", "titleY": 109}}
          },
          "layer": [
            {"transform": [{"filter": "datum.k == 'c' && datum.e == 0.2 && datum.d == 'L'"}], "mark": {"type": "point", "filled": true, "opacity": 0},
              "encoding": {"color": {"field": "s", "type": "nominal", "scale": {"domain": ["Soft", "Stiff"]}, "legend": {"title": null, "labelExpr": "datum.value == 'Soft' ? 'PCHSS pile in Soft Clay' : 'PCHSS pile in Stiff Clay'"}},
                "shape": {"field": "s", "type": "nominal", "scale": {"domain": ["Soft", "Stiff"], "range": ["M-1,-0.045H1V0.045H-1Z M-0.2,-0.2H0.2V0.2H-0.2Z", "M-1,-0.045H1V0.045H-1Z M0,-0.3L0.28,0.2L-0.28,0.2Z"]}, "legend": {"title": null, "labelExpr": "datum.value == 'Soft' ? 'PCHSS pile in Soft Clay' : 'PCHSS pile in Stiff Clay'"}}}},
            {"transform": [{"filter": "datum.k == 'b'"}], "mark": {"type": "rect", "fill": "#f47b12"}, "encoding": {"x2": {"field": "m2"}, "y2": {"field": "e2"}}},
            {"transform": [{"filter": "datum.k == 'bl'"}], "mark": {"type": "text", "color": "#ffffff", "fontSize": 16}, "encoding": {"text": {"field": "txt"}}},
            {"transform": [{"filter": "datum.k == 'soil'"}], "mark": {"type": "rule", "color": "#f7941d", "strokeWidth": 2}, "encoding": {"x2": {"field": "m2"}}},
            {"transform": [{"filter": "datum.k == 'sl'"}], "mark": {"type": "text", "color": "#f39c12", "fontSize": 14, "baseline": "bottom", "dy": -1}, "encoding": {"text": {"value": "Soil"}}},
            {"transform": [{"filter": "datum.k == 'c'"}], "mark": {"type": "line", "interpolate": "catmull-rom", "strokeWidth": 1.6},
              "encoding": {"color": {"field": "s", "type": "nominal"}, "detail": {"field": "d"}, "order": {"field": "e", "sort": "descending"}}},
            {"transform": [{"filter": "datum.k == 'c'"}], "mark": {"type": "point", "filled": true, "opacity": 1},
              "encoding": {"color": {"field": "s", "type": "nominal"}, "shape": {"condition": {"test": "datum.s == 'Soft'", "value": "square"}, "value": "triangle-up"}, "size": {"condition": {"test": "datum.s == 'Soft'", "value": 40}, "value": 62}}},
            {"transform": [{"filter": "datum.k == 'a'"}], "mark": {"type": "rule", "strokeWidth": 1.6}, "encoding": {"y2": {"field": "e2"}, "color": {"field": "s", "type": "nominal"}}},
            {"transform": [{"filter": "datum.k == 'a'"}, {"fold": ["e", "e2"], "as": ["end", "ee"]}], "mark": {"type": "tick", "orient": "horizontal", "thickness": 1.5, "size": 11, "opacity": 1},
              "encoding": {"y": {"field": "ee", "type": "quantitative"}, "color": {"field": "s", "type": "nominal"}}},
            {"transform": [{"filter": "datum.k == 'a'"}, {"fold": ["e", "e2"], "as": ["end", "ee"]}], "mark": {"type": "point", "filled": true, "opacity": 1, "size": 90},
              "encoding": {"y": {"field": "ee", "type": "quantitative"}, "color": {"field": "s", "type": "nominal"}, "shape": {"condition": {"test": "datum.end == 'e'", "value": "M0,0L0.6,1.7L-0.6,1.7Z"}, "value": "M0,0L0.6,-1.7L-0.6,-1.7Z"}}},
            {"transform": [{"filter": "datum.k == 't'"}], "mark": {"type": "text", "fontSize": 15, "fontStyle": "italic"}, "encoding": {"text": {"field": "txt"}, "color": {"field": "s", "type": "nominal"}}}
          ]
        },
        {
          "width": 117, "height": 242,
          "transform": [{"filter": "datum.p == 'WL05'"}],
          "encoding": {
            "x": {"field": "m", "type": "quantitative", "scale": {"domain": [-3.75, 3.75], "nice": false, "zero": false},
              "axis": {"values": [-3, -1.5, 0, 1.5, 3], "format": ".1f", "labelExpr": "replace(datum.label, '−', '-')", "labelFlush": false, "labelOverlap": false, "title": "Moment Envelop along PCHSS pile (kN·m)", "titleX": 114, "titlePadding": 3}},
            "y": {"field": "e", "type": "quantitative", "scale": {"domain": [-1.6, 0.4], "nice": false, "zero": false},
              "axis": {"values": [0.4, 0.2, 0, -0.2, -0.4, -0.6, -0.8, -1, -1.2, -1.4, -1.6], "labels": false, "title": null}}
          },
          "layer": [
            {"transform": [{"filter": "datum.k == 'b'"}], "mark": {"type": "rect", "fill": "#2e6fb4"}, "encoding": {"x2": {"field": "m2"}, "y2": {"field": "e2"}}},
            {"transform": [{"filter": "datum.k == 'bl'"}], "mark": {"type": "text", "color": "#ffffff", "fontSize": 16}, "encoding": {"text": {"field": "txt"}}},
            {"transform": [{"filter": "datum.k == 'soil'"}], "mark": {"type": "rule", "color": "#f7941d", "strokeWidth": 2}, "encoding": {"x2": {"field": "m2"}}},
            {"transform": [{"filter": "datum.k == 'sl'"}], "mark": {"type": "text", "color": "#f39c12", "fontSize": 14, "baseline": "bottom", "dy": -1}, "encoding": {"text": {"value": "Soil"}}},
            {"transform": [{"filter": "datum.k == 'c'"}], "mark": {"type": "line", "interpolate": "catmull-rom", "strokeWidth": 1.6},
              "encoding": {"color": {"field": "s", "type": "nominal"}, "detail": {"field": "d"}, "order": {"field": "e", "sort": "descending"}}},
            {"transform": [{"filter": "datum.k == 'c'"}], "mark": {"type": "point", "filled": true, "opacity": 1},
              "encoding": {"color": {"field": "s", "type": "nominal"}, "shape": {"condition": {"test": "datum.s == 'Soft'", "value": "square"}, "value": "triangle-up"}, "size": {"condition": {"test": "datum.s == 'Soft'", "value": 40}, "value": 62}}},
            {"transform": [{"filter": "datum.k == 'a'"}], "mark": {"type": "rule", "strokeWidth": 1.6}, "encoding": {"y2": {"field": "e2"}, "color": {"field": "s", "type": "nominal"}}},
            {"transform": [{"filter": "datum.k == 'a'"}, {"fold": ["e", "e2"], "as": ["end", "ee"]}], "mark": {"type": "tick", "orient": "horizontal", "thickness": 1.5, "size": 11, "opacity": 1},
              "encoding": {"y": {"field": "ee", "type": "quantitative"}, "color": {"field": "s", "type": "nominal"}}},
            {"transform": [{"filter": "datum.k == 'a'"}, {"fold": ["e", "e2"], "as": ["end", "ee"]}], "mark": {"type": "point", "filled": true, "opacity": 1, "size": 90},
              "encoding": {"y": {"field": "ee", "type": "quantitative"}, "color": {"field": "s", "type": "nominal"}, "shape": {"condition": {"test": "datum.end == 'e'", "value": "M0,0L0.6,1.7L-0.6,1.7Z"}, "value": "M0,0L0.6,-1.7L-0.6,-1.7Z"}}},
            {"transform": [{"filter": "datum.k == 't'"}], "mark": {"type": "text", "fontSize": 15, "fontStyle": "italic"}, "encoding": {"text": {"field": "txt"}, "color": {"field": "s", "type": "nominal"}}}
          ]
        },
        {
          "width": 117, "height": 242,
          "transform": [{"filter": "datum.p == 'CC05'"}],
          "encoding": {
            "x": {"field": "m", "type": "quantitative", "scale": {"domain": [-7, 7], "nice": false, "zero": false},
              "axis": {"values": [-6, -4, -2, 0, 2, 4, 6], "format": "d", "labelExpr": "replace(datum.label, '−', '-')", "labelFlush": false, "labelOverlap": false, "title": null}},
            "y": {"field": "e", "type": "quantitative", "scale": {"domain": [-1.6, 0.4], "nice": false, "zero": false},
              "axis": {"values": [0.4, 0.2, 0, -0.2, -0.4, -0.6, -0.8, -1, -1.2, -1.4, -1.6], "labels": false, "title": null}}
          },
          "layer": [
            {"transform": [{"filter": "datum.k == 'b'"}], "mark": {"type": "rect", "fill": "#7f3f98"}, "encoding": {"x2": {"field": "m2"}, "y2": {"field": "e2"}}},
            {"transform": [{"filter": "datum.k == 'bl'"}], "mark": {"type": "text", "color": "#ffffff", "fontSize": 16}, "encoding": {"text": {"field": "txt"}}},
            {"transform": [{"filter": "datum.k == 'soil'"}], "mark": {"type": "rule", "color": "#f7941d", "strokeWidth": 2}, "encoding": {"x2": {"field": "m2"}}},
            {"transform": [{"filter": "datum.k == 'sl'"}], "mark": {"type": "text", "color": "#f39c12", "fontSize": 14, "baseline": "bottom", "dy": -1}, "encoding": {"text": {"value": "Soil"}}},
            {"transform": [{"filter": "datum.k == 'c'"}], "mark": {"type": "line", "interpolate": "catmull-rom", "strokeWidth": 1.6},
              "encoding": {"color": {"field": "s", "type": "nominal"}, "detail": {"field": "d"}, "order": {"field": "e", "sort": "descending"}}},
            {"transform": [{"filter": "datum.k == 'c'"}], "mark": {"type": "point", "filled": true, "opacity": 1},
              "encoding": {"color": {"field": "s", "type": "nominal"}, "shape": {"condition": {"test": "datum.s == 'Soft'", "value": "square"}, "value": "triangle-up"}, "size": {"condition": {"test": "datum.s == 'Soft'", "value": 40}, "value": 62}}},
            {"transform": [{"filter": "datum.k == 'a'"}], "mark": {"type": "rule", "strokeWidth": 1.6}, "encoding": {"y2": {"field": "e2"}, "color": {"field": "s", "type": "nominal"}}},
            {"transform": [{"filter": "datum.k == 'a'"}, {"fold": ["e", "e2"], "as": ["end", "ee"]}], "mark": {"type": "tick", "orient": "horizontal", "thickness": 1.5, "size": 11, "opacity": 1},
              "encoding": {"y": {"field": "ee", "type": "quantitative"}, "color": {"field": "s", "type": "nominal"}}},
            {"transform": [{"filter": "datum.k == 'a'"}, {"fold": ["e", "e2"], "as": ["end", "ee"]}], "mark": {"type": "point", "filled": true, "opacity": 1, "size": 90},
              "encoding": {"y": {"field": "ee", "type": "quantitative"}, "color": {"field": "s", "type": "nominal"}, "shape": {"condition": {"test": "datum.end == 'e'", "value": "M0,0L0.6,1.7L-0.6,1.7Z"}, "value": "M0,0L0.6,-1.7L-0.6,-1.7Z"}}},
            {"transform": [{"filter": "datum.k == 't'"}], "mark": {"type": "text", "fontSize": 15, "fontStyle": "italic"}, "encoding": {"text": {"field": "txt"}, "color": {"field": "s", "type": "nominal"}}}
          ]
        },
        {
          "width": 117, "height": 242,
          "transform": [{"filter": "datum.p == 'EC05'"}],
          "encoding": {
            "x": {"field": "m", "type": "quantitative", "scale": {"domain": [-7, 7], "nice": false, "zero": false},
              "axis": {"values": [-6, -4, -2, 0, 2, 4, 6], "format": "d", "labelExpr": "replace(datum.label, '−', '-')", "labelFlush": false, "labelOverlap": false, "title": null}},
            "y": {"field": "e", "type": "quantitative", "scale": {"domain": [-1.6, 0.4], "nice": false, "zero": false},
              "axis": {"values": [0.4, 0.2, 0, -0.2, -0.4, -0.6, -0.8, -1, -1.2, -1.4, -1.6], "labels": false, "title": null}}
          },
          "layer": [
            {"transform": [{"filter": "datum.k == 'b'"}], "mark": {"type": "rect", "fill": "#3a9e48"}, "encoding": {"x2": {"field": "m2"}, "y2": {"field": "e2"}}},
            {"transform": [{"filter": "datum.k == 'bl'"}], "mark": {"type": "text", "color": "#ffffff", "fontSize": 16}, "encoding": {"text": {"field": "txt"}}},
            {"transform": [{"filter": "datum.k == 'soil'"}], "mark": {"type": "rule", "color": "#f7941d", "strokeWidth": 2}, "encoding": {"x2": {"field": "m2"}}},
            {"transform": [{"filter": "datum.k == 'sl'"}], "mark": {"type": "text", "color": "#f39c12", "fontSize": 14, "baseline": "bottom", "dy": -1}, "encoding": {"text": {"value": "Soil"}}},
            {"transform": [{"filter": "datum.k == 'c'"}], "mark": {"type": "line", "interpolate": "catmull-rom", "strokeWidth": 1.6},
              "encoding": {"color": {"field": "s", "type": "nominal"}, "detail": {"field": "d"}, "order": {"field": "e", "sort": "descending"}}},
            {"transform": [{"filter": "datum.k == 'c'"}], "mark": {"type": "point", "filled": true, "opacity": 1},
              "encoding": {"color": {"field": "s", "type": "nominal"}, "shape": {"condition": {"test": "datum.s == 'Soft'", "value": "square"}, "value": "triangle-up"}, "size": {"condition": {"test": "datum.s == 'Soft'", "value": 40}, "value": 62}}},
            {"transform": [{"filter": "datum.k == 'a'"}], "mark": {"type": "rule", "strokeWidth": 1.6}, "encoding": {"y2": {"field": "e2"}, "color": {"field": "s", "type": "nominal"}}},
            {"transform": [{"filter": "datum.k == 'a'"}, {"fold": ["e", "e2"], "as": ["end", "ee"]}], "mark": {"type": "tick", "orient": "horizontal", "thickness": 1.5, "size": 11, "opacity": 1},
              "encoding": {"y": {"field": "ee", "type": "quantitative"}, "color": {"field": "s", "type": "nominal"}}},
            {"transform": [{"filter": "datum.k == 'a'"}, {"fold": ["e", "e2"], "as": ["end", "ee"]}], "mark": {"type": "point", "filled": true, "opacity": 1, "size": 90},
              "encoding": {"y": {"field": "ee", "type": "quantitative"}, "color": {"field": "s", "type": "nominal"}, "shape": {"condition": {"test": "datum.end == 'e'", "value": "M0,0L0.6,1.7L-0.6,1.7Z"}, "value": "M0,0L0.6,-1.7L-0.6,-1.7Z"}}},
            {"transform": [{"filter": "datum.k == 't'"}], "mark": {"type": "text", "fontSize": 15, "fontStyle": "italic"}, "encoding": {"text": {"field": "txt"}, "color": {"field": "s", "type": "nominal"}}}
          ]
        }
      ],
      "spacing": 6,
      "bounds": "flush"
    },
    {
      "hconcat": [
        {
          "width": 117, "height": 242,
          "transform": [{"filter": "datum.p == 'SP2'"}],
          "encoding": {
            "x": {"field": "m", "type": "quantitative", "scale": {"domain": [-5, 5], "nice": false, "zero": false},
              "axis": {"values": [-4, -2, 0, 2, 4], "format": "d", "labelExpr": "replace(datum.label, '−', '-')", "labelFlush": false, "labelOverlap": false, "title": null}},
            "y": {"field": "e", "type": "quantitative", "scale": {"domain": [-1.6, 0.4], "nice": false, "zero": false},
              "axis": {"values": [0.4, 0.2, 0, -0.2, -0.4, -0.6, -0.8, -1, -1.2, -1.4, -1.6], "labelOverlap": false, "labelExpr": "abs(round(datum.value * 10)) % 4 == 0 ? replace(format(datum.value, '.1f'), '−', '-') : ''", "title": "Soil Elevation (m)", "titleY": 108}}
          },
          "layer": [
            {"transform": [{"filter": "datum.k == 'c' && datum.e == 0.2 && datum.d == 'L'"}], "mark": {"type": "point", "filled": true, "opacity": 0},
              "encoding": {"color": {"field": "s", "type": "nominal", "scale": {"domain": ["Soft", "Stiff"]}, "legend": {"title": null, "labelExpr": "datum.value == 'Soft' ? 'PCHSS pile in Soft Clay' : 'PCHSS pile in Stiff Clay'"}},
                "shape": {"field": "s", "type": "nominal", "scale": {"domain": ["Soft", "Stiff"], "range": ["M-1,-0.045H1V0.045H-1Z M-0.2,-0.2H0.2V0.2H-0.2Z", "M-1,-0.045H1V0.045H-1Z M0,-0.3L0.28,0.2L-0.28,0.2Z"]}, "legend": {"title": null, "labelExpr": "datum.value == 'Soft' ? 'PCHSS pile in Soft Clay' : 'PCHSS pile in Stiff Clay'"}}}},
            {"transform": [{"filter": "datum.k == 'b'"}], "mark": {"type": "rect", "fill": "#f47b12"}, "encoding": {"x2": {"field": "m2"}, "y2": {"field": "e2"}}},
            {"transform": [{"filter": "datum.k == 'bl'"}], "mark": {"type": "text", "color": "#ffffff", "fontSize": 16}, "encoding": {"text": {"field": "txt"}}},
            {"transform": [{"filter": "datum.k == 'soil'"}], "mark": {"type": "rule", "color": "#f7941d", "strokeWidth": 2}, "encoding": {"x2": {"field": "m2"}}},
            {"transform": [{"filter": "datum.k == 'sl'"}], "mark": {"type": "text", "color": "#f39c12", "fontSize": 14, "baseline": "bottom", "dy": -1}, "encoding": {"text": {"value": "Soil"}}},
            {"transform": [{"filter": "datum.k == 'c'"}], "mark": {"type": "line", "interpolate": "catmull-rom", "strokeWidth": 1.6},
              "encoding": {"color": {"field": "s", "type": "nominal"}, "detail": {"field": "d"}, "order": {"field": "e", "sort": "descending"}}},
            {"transform": [{"filter": "datum.k == 'c'"}], "mark": {"type": "point", "filled": true, "opacity": 1},
              "encoding": {"color": {"field": "s", "type": "nominal"}, "shape": {"condition": {"test": "datum.s == 'Soft'", "value": "square"}, "value": "triangle-up"}, "size": {"condition": {"test": "datum.s == 'Soft'", "value": 40}, "value": 62}}},
            {"transform": [{"filter": "datum.k == 'a'"}], "mark": {"type": "rule", "strokeWidth": 1.6}, "encoding": {"y2": {"field": "e2"}, "color": {"field": "s", "type": "nominal"}}},
            {"transform": [{"filter": "datum.k == 'a'"}, {"fold": ["e", "e2"], "as": ["end", "ee"]}], "mark": {"type": "tick", "orient": "horizontal", "thickness": 1.5, "size": 11, "opacity": 1},
              "encoding": {"y": {"field": "ee", "type": "quantitative"}, "color": {"field": "s", "type": "nominal"}}},
            {"transform": [{"filter": "datum.k == 'a'"}, {"fold": ["e", "e2"], "as": ["end", "ee"]}], "mark": {"type": "point", "filled": true, "opacity": 1, "size": 90},
              "encoding": {"y": {"field": "ee", "type": "quantitative"}, "color": {"field": "s", "type": "nominal"}, "shape": {"condition": {"test": "datum.end == 'e'", "value": "M0,0L0.6,1.7L-0.6,1.7Z"}, "value": "M0,0L0.6,-1.7L-0.6,-1.7Z"}}},
            {"transform": [{"filter": "datum.k == 't'"}], "mark": {"type": "text", "fontSize": 15, "fontStyle": "italic"}, "encoding": {"text": {"field": "txt"}, "color": {"field": "s", "type": "nominal"}}}
          ]
        },
        {
          "width": 117, "height": 242,
          "transform": [{"filter": "datum.p == 'WL2'"}],
          "encoding": {
            "x": {"field": "m", "type": "quantitative", "scale": {"domain": [-7.5, 7.5], "nice": false, "zero": false},
              "axis": {"values": [-6, -3, 0, 3, 6], "format": "d", "labelExpr": "replace(datum.label, '−', '-')", "labelFlush": false, "labelOverlap": false, "title": "Moment Envelop along PCHSS pile (kN·m)", "titleX": 114, "titlePadding": 3}},
            "y": {"field": "e", "type": "quantitative", "scale": {"domain": [-1.6, 0.4], "nice": false, "zero": false},
              "axis": {"values": [0.4, 0.2, 0, -0.2, -0.4, -0.6, -0.8, -1, -1.2, -1.4, -1.6], "labels": false, "title": null}}
          },
          "layer": [
            {"transform": [{"filter": "datum.k == 'b'"}], "mark": {"type": "rect", "fill": "#2e6fb4"}, "encoding": {"x2": {"field": "m2"}, "y2": {"field": "e2"}}},
            {"transform": [{"filter": "datum.k == 'bl'"}], "mark": {"type": "text", "color": "#ffffff", "fontSize": 16}, "encoding": {"text": {"field": "txt"}}},
            {"transform": [{"filter": "datum.k == 'soil'"}], "mark": {"type": "rule", "color": "#f7941d", "strokeWidth": 2}, "encoding": {"x2": {"field": "m2"}}},
            {"transform": [{"filter": "datum.k == 'sl'"}], "mark": {"type": "text", "color": "#f39c12", "fontSize": 14, "baseline": "bottom", "dy": -1}, "encoding": {"text": {"value": "Soil"}}},
            {"transform": [{"filter": "datum.k == 'c'"}], "mark": {"type": "line", "interpolate": "catmull-rom", "strokeWidth": 1.6},
              "encoding": {"color": {"field": "s", "type": "nominal"}, "detail": {"field": "d"}, "order": {"field": "e", "sort": "descending"}}},
            {"transform": [{"filter": "datum.k == 'c'"}], "mark": {"type": "point", "filled": true, "opacity": 1},
              "encoding": {"color": {"field": "s", "type": "nominal"}, "shape": {"condition": {"test": "datum.s == 'Soft'", "value": "square"}, "value": "triangle-up"}, "size": {"condition": {"test": "datum.s == 'Soft'", "value": 40}, "value": 62}}},
            {"transform": [{"filter": "datum.k == 'a'"}], "mark": {"type": "rule", "strokeWidth": 1.6}, "encoding": {"y2": {"field": "e2"}, "color": {"field": "s", "type": "nominal"}}},
            {"transform": [{"filter": "datum.k == 'a'"}, {"fold": ["e", "e2"], "as": ["end", "ee"]}], "mark": {"type": "tick", "orient": "horizontal", "thickness": 1.5, "size": 11, "opacity": 1},
              "encoding": {"y": {"field": "ee", "type": "quantitative"}, "color": {"field": "s", "type": "nominal"}}},
            {"transform": [{"filter": "datum.k == 'a'"}, {"fold": ["e", "e2"], "as": ["end", "ee"]}], "mark": {"type": "point", "filled": true, "opacity": 1, "size": 90},
              "encoding": {"y": {"field": "ee", "type": "quantitative"}, "color": {"field": "s", "type": "nominal"}, "shape": {"condition": {"test": "datum.end == 'e'", "value": "M0,0L0.6,1.7L-0.6,1.7Z"}, "value": "M0,0L0.6,-1.7L-0.6,-1.7Z"}}},
            {"transform": [{"filter": "datum.k == 't'"}], "mark": {"type": "text", "fontSize": 15, "fontStyle": "italic"}, "encoding": {"text": {"field": "txt"}, "color": {"field": "s", "type": "nominal"}}}
          ]
        },
        {
          "width": 117, "height": 242,
          "transform": [{"filter": "datum.p == 'CC2'"}],
          "encoding": {
            "x": {"field": "m", "type": "quantitative", "scale": {"domain": [-17, 17], "nice": false, "zero": false},
              "axis": {"values": [-14, -7, 0, 7, 14], "format": "d", "labelExpr": "replace(datum.label, '−', '-')", "labelFlush": false, "labelOverlap": false, "title": null}},
            "y": {"field": "e", "type": "quantitative", "scale": {"domain": [-1.6, 0.4], "nice": false, "zero": false},
              "axis": {"values": [0.4, 0.2, 0, -0.2, -0.4, -0.6, -0.8, -1, -1.2, -1.4, -1.6], "labels": false, "title": null}}
          },
          "layer": [
            {"transform": [{"filter": "datum.k == 'b'"}], "mark": {"type": "rect", "fill": "#7f3f98"}, "encoding": {"x2": {"field": "m2"}, "y2": {"field": "e2"}}},
            {"transform": [{"filter": "datum.k == 'bl'"}], "mark": {"type": "text", "color": "#ffffff", "fontSize": 16}, "encoding": {"text": {"field": "txt"}}},
            {"transform": [{"filter": "datum.k == 'soil'"}], "mark": {"type": "rule", "color": "#f7941d", "strokeWidth": 2}, "encoding": {"x2": {"field": "m2"}}},
            {"transform": [{"filter": "datum.k == 'sl'"}], "mark": {"type": "text", "color": "#f39c12", "fontSize": 14, "baseline": "bottom", "dy": -1}, "encoding": {"text": {"value": "Soil"}}},
            {"transform": [{"filter": "datum.k == 'k'"}], "mark": {"type": "rule", "color": "#7030a0", "strokeWidth": 2, "strokeDash": [6, 4]}, "encoding": {"y2": {"field": "e2"}}},
            {"transform": [{"filter": "datum.k == 'kl'"}], "mark": {"type": "text", "color": "#7030a0", "fontSize": 17}, "encoding": {"text": {"value": "Crack"}}},
            {"transform": [{"filter": "datum.k == 'c'"}], "mark": {"type": "line", "interpolate": "catmull-rom", "strokeWidth": 1.6},
              "encoding": {"color": {"field": "s", "type": "nominal"}, "detail": {"field": "d"}, "order": {"field": "e", "sort": "descending"}}},
            {"transform": [{"filter": "datum.k == 'c'"}], "mark": {"type": "point", "filled": true, "opacity": 1},
              "encoding": {"color": {"field": "s", "type": "nominal"}, "shape": {"condition": {"test": "datum.s == 'Soft'", "value": "square"}, "value": "triangle-up"}, "size": {"condition": {"test": "datum.s == 'Soft'", "value": 40}, "value": 62}}},
            {"transform": [{"filter": "datum.k == 'a'"}], "mark": {"type": "rule", "strokeWidth": 1.6}, "encoding": {"y2": {"field": "e2"}, "color": {"field": "s", "type": "nominal"}}},
            {"transform": [{"filter": "datum.k == 'a'"}, {"fold": ["e", "e2"], "as": ["end", "ee"]}], "mark": {"type": "tick", "orient": "horizontal", "thickness": 1.5, "size": 11, "opacity": 1},
              "encoding": {"y": {"field": "ee", "type": "quantitative"}, "color": {"field": "s", "type": "nominal"}}},
            {"transform": [{"filter": "datum.k == 'a'"}, {"fold": ["e", "e2"], "as": ["end", "ee"]}], "mark": {"type": "point", "filled": true, "opacity": 1, "size": 90},
              "encoding": {"y": {"field": "ee", "type": "quantitative"}, "color": {"field": "s", "type": "nominal"}, "shape": {"condition": {"test": "datum.end == 'e'", "value": "M0,0L0.6,1.7L-0.6,1.7Z"}, "value": "M0,0L0.6,-1.7L-0.6,-1.7Z"}}},
            {"transform": [{"filter": "datum.k == 't'"}], "mark": {"type": "text", "fontSize": 15, "fontStyle": "italic"}, "encoding": {"text": {"field": "txt"}, "color": {"field": "s", "type": "nominal"}}}
          ]
        },
        {
          "width": 117, "height": 242,
          "transform": [{"filter": "datum.p == 'EC2'"}],
          "encoding": {
            "x": {"field": "m", "type": "quantitative", "scale": {"domain": [-17, 17], "nice": false, "zero": false},
              "axis": {"values": [-14, -7, 0, 7, 14], "format": "d", "labelExpr": "replace(datum.label, '−', '-')", "labelFlush": false, "labelOverlap": false, "title": null}},
            "y": {"field": "e", "type": "quantitative", "scale": {"domain": [-1.6, 0.4], "nice": false, "zero": false},
              "axis": {"values": [0.4, 0.2, 0, -0.2, -0.4, -0.6, -0.8, -1, -1.2, -1.4, -1.6], "labels": false, "title": null}}
          },
          "layer": [
            {"transform": [{"filter": "datum.k == 'b'"}], "mark": {"type": "rect", "fill": "#3a9e48"}, "encoding": {"x2": {"field": "m2"}, "y2": {"field": "e2"}}},
            {"transform": [{"filter": "datum.k == 'bl'"}], "mark": {"type": "text", "color": "#ffffff", "fontSize": 16}, "encoding": {"text": {"field": "txt"}}},
            {"transform": [{"filter": "datum.k == 'soil'"}], "mark": {"type": "rule", "color": "#f7941d", "strokeWidth": 2}, "encoding": {"x2": {"field": "m2"}}},
            {"transform": [{"filter": "datum.k == 'sl'"}], "mark": {"type": "text", "color": "#f39c12", "fontSize": 14, "baseline": "bottom", "dy": -1}, "encoding": {"text": {"value": "Soil"}}},
            {"transform": [{"filter": "datum.k == 'k'"}], "mark": {"type": "rule", "color": "#7030a0", "strokeWidth": 2, "strokeDash": [6, 4]}, "encoding": {"y2": {"field": "e2"}}},
            {"transform": [{"filter": "datum.k == 'kl'"}], "mark": {"type": "text", "color": "#7030a0", "fontSize": 17}, "encoding": {"text": {"value": "Crack"}}},
            {"transform": [{"filter": "datum.k == 'c'"}], "mark": {"type": "line", "interpolate": "catmull-rom", "strokeWidth": 1.6},
              "encoding": {"color": {"field": "s", "type": "nominal"}, "detail": {"field": "d"}, "order": {"field": "e", "sort": "descending"}}},
            {"transform": [{"filter": "datum.k == 'c'"}], "mark": {"type": "point", "filled": true, "opacity": 1},
              "encoding": {"color": {"field": "s", "type": "nominal"}, "shape": {"condition": {"test": "datum.s == 'Soft'", "value": "square"}, "value": "triangle-up"}, "size": {"condition": {"test": "datum.s == 'Soft'", "value": 40}, "value": 62}}},
            {"transform": [{"filter": "datum.k == 'a'"}], "mark": {"type": "rule", "strokeWidth": 1.6}, "encoding": {"y2": {"field": "e2"}, "color": {"field": "s", "type": "nominal"}}},
            {"transform": [{"filter": "datum.k == 'a'"}, {"fold": ["e", "e2"], "as": ["end", "ee"]}], "mark": {"type": "tick", "orient": "horizontal", "thickness": 1.5, "size": 11, "opacity": 1},
              "encoding": {"y": {"field": "ee", "type": "quantitative"}, "color": {"field": "s", "type": "nominal"}}},
            {"transform": [{"filter": "datum.k == 'a'"}, {"fold": ["e", "e2"], "as": ["end", "ee"]}], "mark": {"type": "point", "filled": true, "opacity": 1, "size": 90},
              "encoding": {"y": {"field": "ee", "type": "quantitative"}, "color": {"field": "s", "type": "nominal"}, "shape": {"condition": {"test": "datum.end == 'e'", "value": "M0,0L0.6,1.7L-0.6,1.7Z"}, "value": "M0,0L0.6,-1.7L-0.6,-1.7Z"}}},
            {"transform": [{"filter": "datum.k == 't'"}], "mark": {"type": "text", "fontSize": 15, "fontStyle": "italic"}, "encoding": {"text": {"field": "txt"}, "color": {"field": "s", "type": "nominal"}}}
          ]
        }
      ],
      "spacing": 6,
      "bounds": "flush"
    }
  ],
  "spacing": 8,
  "resolve": {"scale": {"color": "independent", "shape": "independent"}},
  "config": {
    "font": "Liberation Serif",
    "view": {"stroke": "#555555", "strokeWidth": 1.5},
    "axis": {"labelFont": "Liberation Serif", "labelFontSize": 15, "labelColor": "#000000", "titleFont": "Liberation Serif", "titleFontSize": 15, "titleFontWeight": "normal", "titleColor": "#000000", "domain": false, "tickColor": "#555555", "tickSize": 5, "labelPadding": 2, "gridColor": "#c8c8c8", "gridDash": [2, 2], "gridWidth": 0.8},
    "legend": {"orient": "none", "legendX": 33, "legendY": -26, "direction": "horizontal", "labelFont": "Liberation Serif", "labelFontSize": 15, "labelColor": "#000000", "symbolSize": 1225, "symbolOpacity": 1, "symbolStrokeWidth": 0, "strokeColor": "#aaaaaa", "fillColor": "#ffffff", "padding": 2, "columnPadding": 16, "labelOffset": 6},
    "range": {"category": ["#3a7fc2", "#f5161b"]},
    "text": {"font": "Liberation Serif"}
  }
}
